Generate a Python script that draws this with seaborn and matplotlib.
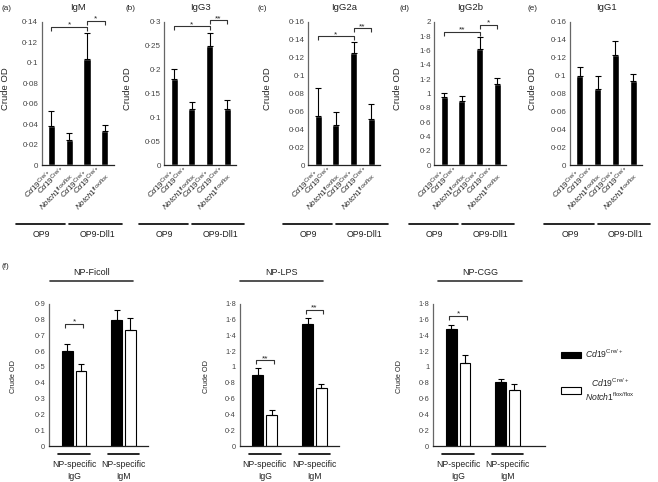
import numpy as np
import pandas as pd
import matplotlib
matplotlib.use('Agg')
import matplotlib.pyplot as plt
import matplotlib.transforms as mtransforms
from matplotlib.patches import Patch
import seaborn as sns

#------------------------------------------------------------------
#   DATOS
#------------------------------------------------------------------
letras_top = ['(a)', '(b)', '(c)', '(d)', '(e)']
titulos_top = ['IgM', 'IgG3', 'IgG2a', 'IgG2b', 'IgG1']
condiciones = ['OP9 cre', 'OP9 notch', 'Dll1 cre', 'Dll1 notch']
cre = r'$\mathit{Cd19}^{\mathrm{Cre/+}}$'
notch = r'$\mathit{Notch1}^{\mathrm{flox/flox}}$'
genotipos = [cre, cre + '\n' + notch, cre, cre + '\n' + notch]
cultivos = ['OP9', 'OP9-Dll1']

igm_media = [0.038, 0.0246, 0.104, 0.0337]
igm_err = [0.015, 0.0064, 0.025, 0.0053]
igg3_media = [0.181, 0.117, 0.249, 0.117]
igg3_err = [0.019, 0.015, 0.027, 0.020]
igg2a_media = [0.0543, 0.0451, 0.125, 0.051]
igg2a_err = [0.0318, 0.0144, 0.012, 0.0174]
igg2b_media = [0.953, 0.893, 1.615, 1.13]
igg2b_err = [0.047, 0.07, 0.165, 0.08]
igg1_media = [0.0998, 0.0843, 0.123, 0.0935]
igg1_err = [0.0092, 0.0147, 0.016, 0.0082]

ymax_top = [0.14, 0.3, 0.16, 2.0, 0.16]
paso_top = [0.02, 0.05, 0.02, 0.2, 0.02]

# (barra i, barra j, altura, texto)
sig_top = [
    [(0, 2, 0.135, '*'), (2, 3, 0.141, '*')],
    [(0, 2, 0.29, '*'), (2, 3, 0.303, '**')],
    [(0, 2, 0.144, '*'), (2, 3, 0.153, '**')],
    [(0, 2, 1.86, '**'), (2, 3, 1.96, '*')],
    [],
]

antigenos = ['NP-Ficoll', 'NP-LPS', 'NP-CGG']
isotipos = ['NP-specific\nIgG', 'NP-specific\nIgM']
cepas = [cre, cre + '\n' + notch]

ficoll_cre = [0.603, 0.798]
ficoll_cre_err = [0.040, 0.059]
ficoll_notch = [0.477, 0.731]
ficoll_notch_err = [0.042, 0.078]
lps_cre = [0.902, 1.54]
lps_cre_err = [0.084, 0.071]
lps_notch = [0.39, 0.73]
lps_notch_err = [0.067, 0.055]
cgg_cre = [1.477, 0.806]
cgg_cre_err = [0.055, 0.042]
cgg_notch = [1.045, 0.713]
cgg_notch_err = [0.105, 0.072]

ymax_bot = [0.9, 1.8, 1.8]
paso_bot = [0.1, 0.2, 0.2]
# (isotipo, altura, texto)
sig_bot = [[(0, 0.773, '*')], [(0, 1.087, '**'), (1, 1.72, '**')], [(0, 1.645, '*')]]

#------------------------------------------------------------------
#   ESTILO
#------------------------------------------------------------------
sns.set_theme(style='white')
plt.rcParams['font.family'] = ['Liberation Sans', 'DejaVu Sans']
plt.rcParams['mathtext.fontset'] = 'custom'
plt.rcParams['mathtext.rm'] = 'Liberation Sans'
plt.rcParams['mathtext.it'] = 'Liberation Sans:italic'
plt.rcParams['mathtext.sf'] = 'Liberation Sans'

W, H = 658, 482
fig = plt.figure(figsize=(W / 100, H / 100), dpi=100)


def caja(x0, y0, x1, y1):
    # caja en pixeles (origen arriba-izquierda) -> fraccion de figura
    return [x0 / W, 1 - y1 / H, (x1 - x0) / W, (y1 - y0) / H]


def fmt(v):
    return f"{round(v, 3):g}".replace('.', '\u00b7')


def ejes_base(ax, ymax, paso, fs):
    ax.set_ylim(0, ymax)
    ticks = np.arange(0, ymax + paso / 2, paso)
    ax.set_yticks(ticks)
    ax.set_yticklabels([fmt(t) for t in ticks], fontsize=fs, color='#444444')
    ax.tick_params(axis='both', length=0)
    ax.tick_params(axis='y', pad=2.5)
    sns.despine(ax=ax)
    ax.spines['left'].set_color('#666666')
    ax.spines['bottom'].set_color('#222222')
    ax.spines['left'].set_linewidth(0.9)
    ax.spines['bottom'].set_linewidth(0.9)
    ax.set_xlabel('')


def centros(ax):
    ps = sorted(ax.patches, key=lambda p: p.get_x())
    return [p.get_x() + p.get_width() / 2 for p in ps], [p.get_height() for p in ps]


def corchete(ax, xa, xb, y, txt):
    h = 0.028 * ax.get_ylim()[1]
    ax.plot([xa, xa, xb, xb], [y - h, y, y, y - h], color='#333333', lw=0.8,
            clip_on=False, solid_capstyle='butt')
    ax.text((xa + xb) / 2, y, txt, ha='center', va='baseline', fontsize=6,
            color='#222222', clip_on=False)


#------------------------------------------------------------------
#   FILA SUPERIOR (a)-(e)
#------------------------------------------------------------------
medias_top = [igm_media, igg3_media, igg2a_media, igg2b_media, igg1_media]
errores_top = [igm_err, igg3_err, igg2a_err, igg2b_err, igg1_err]
izq_top = [41.7, 164.3, 308.3, 434.3, 570]
letra_x = [2, 125, 258, 399, 527]
ylab_dx = [-32, -32.3, -36.3, -32.3, -33]

for k in range(5):
    ax = fig.add_axes(caja(izq_top[k], 21.7, izq_top[k] + 72, 165))
    df = pd.DataFrame({'condicion': condiciones, 'od': medias_top[k]})
    sns.barplot(data=df, x='condicion', y='od', color='black', width=0.4,
                errorbar=None, saturation=1, ax=ax)
    ax.set_xlim(-0.55, 3.5)
    ejes_base(ax, ymax_top[k], paso_top[k], 5.8)
    xs, hs = centros(ax)
    ax.errorbar(xs, hs, yerr=[np.zeros(4), errores_top[k]], fmt='none',
                ecolor='black', elinewidth=0.8, capsize=2.2, capthick=0.8, zorder=3)
    for i, j, y, txt in sig_top[k]:
        corchete(ax, xs[i], xs[j], y, txt)

    ax.set_xticks(range(4))
    ax.set_xticklabels(genotipos, rotation=45, ha='right', va='center',
                       rotation_mode='anchor', fontsize=5.8, multialignment='right')
    ax.tick_params(axis='x', pad=5)

    ax.set_ylabel('Crude OD', fontsize=6.8)
    ax.yaxis.set_label_coords(ylab_dx[k] / 72, 0.53)

    # lineas de grupo OP9 / OP9-Dll1
    tr = mtransforms.blended_transform_factory(ax.transData, ax.transAxes)
    for (x0, x1, xt), nombre in zip([(-2.0, 0.78, -0.55), (1.0, 3.95, 2.6)], cultivos):
        ax.plot([x0, x1], [-0.412, -0.412], color='black', lw=1.2, transform=tr,
                clip_on=False)
        ax.text(xt, -0.485, nombre, transform=tr, ha='center', va='center',
                fontsize=6.3, color='#222222')

    fig.text(izq_top[k] / W + 36 / W, 1 - 8 / H, titulos_top[k], ha='center',
             va='center', fontsize=6.8, color='#222222')
    fig.text(letra_x[k] / W, 1 - 8 / H, letras_top[k], ha='left', va='center',
             fontsize=5.8, color='#222222')

#------------------------------------------------------------------
#   FILA INFERIOR (f)
#------------------------------------------------------------------
cre_bot = [ficoll_cre, lps_cre, cgg_cre]
cre_bot_err = [ficoll_cre_err, lps_cre_err, cgg_cre_err]
notch_bot = [ficoll_notch, lps_notch, cgg_notch]
notch_bot_err = [ficoll_notch_err, lps_notch_err, cgg_notch_err]
izq_bot = [49.3, 240, 433.3]
der_bot = [148.3, 339.3, 545]
xmax_bot = [1.5, 1.5, 1.757]
titulo_x = [(0.007, 0.845), (0.0, 0.84), (0.045, 0.79)]
ylab_bot_dx = [-32.6, -30, -30.6]

for k in range(3):
    ancho = der_bot[k] - izq_bot[k]
    ax = fig.add_axes(caja(izq_bot[k], 303.5, der_bot[k], 446.3))
    df = pd.DataFrame({
        'isotipo': isotipos * 2,
        'cepa': [cepas[0]] * 2 + [cepas[1]] * 2,
        'od': cre_bot[k] + notch_bot[k],
    })
    sns.barplot(data=df, x='isotipo', y='od', hue='cepa', hue_order=cepas,
                palette=['black', 'white'], edgecolor='black', linewidth=0.8,
                width=0.56, gap=0.21, errorbar=None, saturation=1, legend=False, ax=ax)
    ax.set_xlim(-0.5, xmax_bot[k])
    ejes_base(ax, ymax_bot[k], paso_bot[k], 5.3)
    ax.tick_params(axis='y', pad=3)
    ax.set_xticks([])
    xs, hs = centros(ax)
    errs = [cre_bot_err[k][0], notch_bot_err[k][0], cre_bot_err[k][1], notch_bot_err[k][1]]
    ax.errorbar(xs, hs, yerr=[np.zeros(4), errs], fmt='none', ecolor='black',
                elinewidth=0.8, capsize=2.2, capthick=0.8, zorder=3)
    for g, y, txt in sig_bot[k]:
        corchete(ax, xs[2 * g] - 0.04, xs[2 * g + 1] + 0.04, y, txt)

    ax.set_ylabel('Crude OD', fontsize=5.3)
    ax.yaxis.set_label_coords(ylab_bot_dx[k] / ancho, 0.487)

    tr = mtransforms.blended_transform_factory(ax.transData, ax.transAxes)
    for g, nombre in enumerate(isotipos):
        ax.plot([g - 0.32, g + 0.32], [-0.054, -0.054], color='black', lw=1.2,
                transform=tr, clip_on=False)
        ax.text(g, -0.169, nombre, transform=tr, ha='center', va='center',
                fontsize=6.2, linespacing=1.4, color='#222222')

    a0, a1 = titulo_x[k]
    ax.plot([a0, a1], [1.16, 1.16], color='#333333', lw=1.2, transform=ax.transAxes,
            clip_on=False)
    ax.text((a0 + a1) / 2, 1.214, antigenos[k], transform=ax.transAxes, ha='center',
            va='center', fontsize=6.5, color='#222222')

fig.text(2 / W, 1 - 267 / H, '(f)', ha='left', va='center', fontsize=5.8, color='#222222')

# leyenda
manejadores = [Patch(facecolor='black', edgecolor='black', linewidth=0.8),
               Patch(facecolor='white', edgecolor='black', linewidth=0.8)]
leg = fig.legend(manejadores, cepas, loc='upper left',
                 bbox_to_anchor=(560.7 / W, 1 - 347.5 / H), frameon=False,
                 fontsize=6.2, handlelength=2.4, handleheight=0.8, handletextpad=0.4,
                 labelspacing=1.9, borderaxespad=0, borderpad=0)
leg.get_texts()[1].set_multialignment('center')

fig.savefig('out.png', dpi=100)
